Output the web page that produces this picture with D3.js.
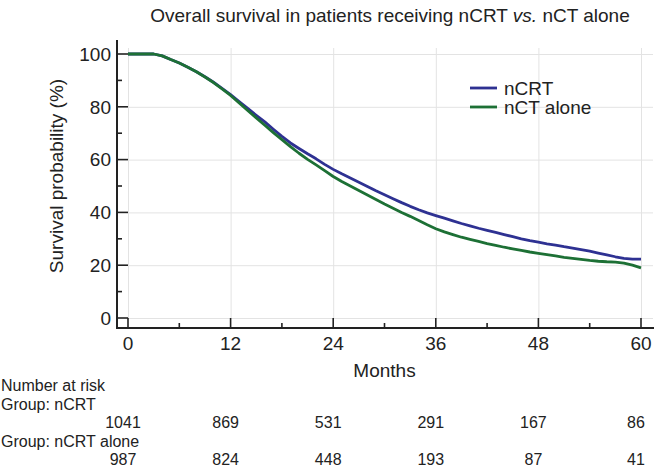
<!DOCTYPE html>
<html>
<head>
<meta charset="utf-8">
<script src="https://cdn.jsdelivr.net/npm/d3@7"></script>
<style>
  html, body { margin: 0; padding: 0; background: #fff; }
  svg { display: block; font-family: "Liberation Sans", Arial, Helvetica, sans-serif; }
</style>
</head>
<body>
<svg id="chart" width="656" height="469"></svg>
<script>
// ---- data ----
const months = d3.range(0, 61);
const nCRT = [100,100,100,100,99.3,97.9,96.6,95,93.3,91.4,89.3,87,84.6,82,79.4,76.8,74.3,71.5,68.8,66.3,64.2,62.2,60.3,58.2,56.3,54.6,53,51.4,49.8,48.2,46.7,45.2,43.7,42.3,41,39.8,38.8,37.8,36.8,35.8,34.9,34,33.2,32.4,31.6,30.8,30,29.3,28.7,28.1,27.6,27,26.5,25.9,25.3,24.6,23.9,23.2,22.6,22.3,22.3];
const nCT = [100,100,100,100,99.3,97.9,96.6,95,93.3,91.3,89.2,86.8,84.3,81.5,78.6,75.8,73,70.2,67.6,64.9,62.4,60.1,58,55.8,53.6,51.7,50,48.3,46.6,44.9,43.2,41.6,40,38.5,36.9,35.3,33.8,32.6,31.6,30.6,29.8,29,28.2,27.5,26.8,26.2,25.6,25,24.5,24,23.5,23,22.6,22.2,21.8,21.5,21.3,21.2,20.8,20,19];
const seriesNames = ["nCRT", "nCT alone"];
const seriesColors = ["#2e3192", "#1d7035"];
const xTicks = [0, 12, 24, 36, 48, 60];
const xMinorTicks = [6, 18, 30, 42, 54];
const yTicks = [0, 20, 40, 60, 80, 100];
const yMinorTicks = [10, 30, 50, 70, 90];
const riskTimes = [0, 12, 24, 36, 48, 60];
const riskGroups = ["Group: nCRT", "Group: nCRT alone"];
const riskNCRT = [1041, 869, 531, 291, 167, 86];
const riskNCT = [987, 824, 448, 193, 87, 41];

// ---- layout ----
const svg = d3.select("#chart");
const x = d3.scaleLinear().domain([0, 60]).range([128, 641]);
const y = d3.scaleLinear().domain([0, 100]).range([318, 54]);
const axisX = 117, axisY = 328;
const ink = "#222";

// gridlines
const grid = svg.append("g").attr("stroke", "#e3e3e3").attr("stroke-width", 1);
grid.selectAll("line.v").data(xTicks).join("line")
  .attr("x1", d => x(d) + 0.5).attr("x2", d => x(d) + 0.5)
  .attr("y1", y(100) - 6).attr("y2", y(0));
grid.selectAll("line.h").data(yTicks).join("line")
  .attr("x1", x(0)).attr("x2", x(60) + 12)
  .attr("y1", d => y(d) + 0.5).attr("y2", d => y(d) + 0.5);

// curves
const line = d3.line().x((d, i) => x(months[i])).y(d => y(d));
[nCRT, nCT].forEach((s, k) => {
  svg.append("path").datum(s)
    .attr("fill", "none").attr("stroke", seriesColors[k])
    .attr("stroke-width", 2.8).attr("stroke-linejoin", "round")
    .attr("d", line);
});

// y axis (offset, ticks inward)
const yAxisG = svg.append("g").attr("transform", `translate(${axisX},0)`);
yAxisG.append("line").attr("x1", 0).attr("x2", 0).attr("y1", y(100) - 14).attr("y2", axisY + 1)
  .attr("stroke", ink).attr("stroke-width", 2);
yAxisG.selectAll("line.maj").data(yTicks).join("line")
  .attr("x1", 0).attr("x2", x(0) - axisX).attr("y1", d => y(d)).attr("y2", d => y(d))
  .attr("stroke", ink).attr("stroke-width", 1.6);
yAxisG.selectAll("line.min").data(yMinorTicks).join("line")
  .attr("x1", 0).attr("x2", 5).attr("y1", d => y(d)).attr("y2", d => y(d))
  .attr("stroke", ink).attr("stroke-width", 1.6);
yAxisG.selectAll("text").data(yTicks).join("text")
  .attr("x", -6).attr("y", d => y(d)).attr("dy", "0.36em")
  .attr("text-anchor", "end").attr("font-size", 19).attr("fill", ink)
  .text(d => d);

// x axis
const xAxisG = svg.append("g").attr("transform", `translate(0,${axisY})`);
xAxisG.append("line").attr("x1", axisX - 1).attr("x2", 654).attr("y1", 0).attr("y2", 0)
  .attr("stroke", ink).attr("stroke-width", 2);
xAxisG.selectAll("line.maj").data(xTicks).join("line")
  .attr("x1", d => x(d)).attr("x2", d => x(d)).attr("y1", 0).attr("y2", y(0) - axisY)
  .attr("stroke", ink).attr("stroke-width", 1.6);
xAxisG.selectAll("line.min").data(xMinorTicks).join("line")
  .attr("x1", d => x(d)).attr("x2", d => x(d)).attr("y1", 0).attr("y2", -5)
  .attr("stroke", ink).attr("stroke-width", 1.6);
xAxisG.selectAll("text").data(xTicks).join("text")
  .attr("x", d => x(d)).attr("y", 22)
  .attr("text-anchor", "middle").attr("font-size", 19).attr("fill", ink)
  .text(d => d);

// axis titles
svg.append("text").attr("x", (x(0) + x(60)) / 2).attr("y", 377)
  .attr("text-anchor", "middle").attr("font-size", 19).attr("fill", ink).text("Months");
svg.append("text").attr("transform", `translate(63,176) rotate(-90)`)
  .attr("text-anchor", "middle").attr("font-size", 19).attr("fill", ink).text("Survival probability (%)");

// title
const title = svg.append("text").attr("x", 390).attr("y", 22)
  .attr("text-anchor", "middle").attr("font-size", 19).attr("fill", ink);
title.append("tspan").text("Overall survival in patients receiving nCRT ");
title.append("tspan").attr("font-style", "italic").text("vs.");
title.append("tspan").text(" nCT alone");

// legend
const leg = svg.append("g");
seriesNames.forEach((n, i) => {
  const ly = 88 + i * 19;
  leg.append("line").attr("x1", 470).attr("x2", 497).attr("y1", ly).attr("y2", ly)
    .attr("stroke", seriesColors[i]).attr("stroke-width", 2.8);
  leg.append("text").attr("x", 504).attr("y", ly).attr("dy", "0.36em")
    .attr("font-size", 19).attr("fill", ink).text(n);
});

// number at risk table
const rt = svg.append("g").attr("font-size", 16).attr("fill", ink);
rt.append("text").attr("x", 1).attr("y", 391).text("Number at risk");
rt.append("text").attr("x", 1).attr("y", 410).text(riskGroups[0]);
rt.selectAll("text.r1").data(riskNCRT).join("text").attr("class", "r1")
  .attr("x", (d, i) => x(riskTimes[i]) - 5).attr("y", 428).attr("text-anchor", "middle").text(d => d);
rt.append("text").attr("x", 1).attr("y", 447).text(riskGroups[1]);
rt.selectAll("text.r2").data(riskNCT).join("text").attr("class", "r2")
  .attr("x", (d, i) => x(riskTimes[i]) - 5).attr("y", 465).attr("text-anchor", "middle").text(d => d);
</script>
</body>
</html>
